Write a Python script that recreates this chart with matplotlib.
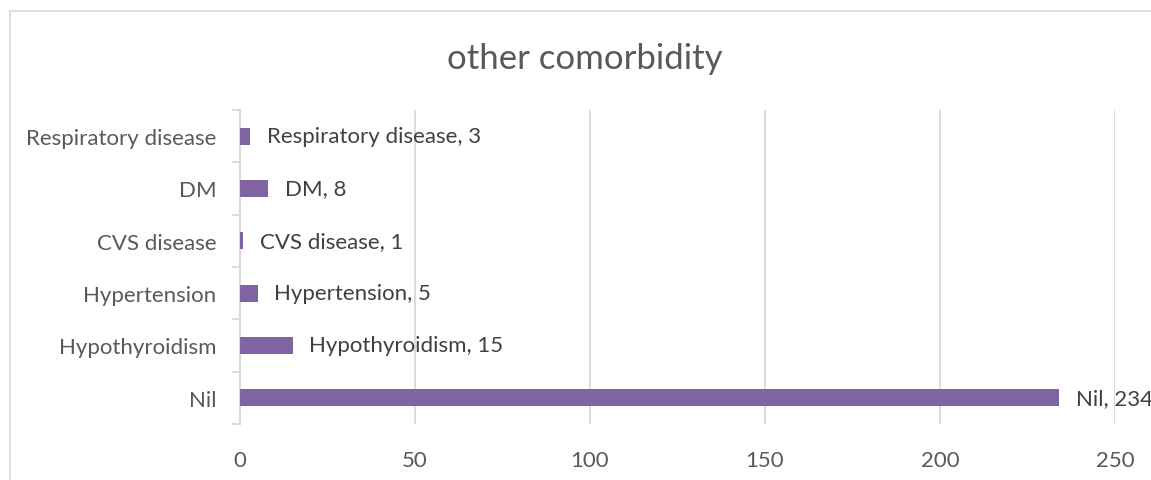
import matplotlib
matplotlib.use("Agg")
import matplotlib.pyplot as plt
from matplotlib.lines import Line2D

categories = ["Nil", "Hypothyroidism", "Hypertension", "CVS disease", "DM", "Respiratory disease"]
counts = [234, 15, 5, 1, 8, 3]
x_ticks = [0, 50, 100, 150, 200, 250]

plt.rcParams['font.family'] = ['Lato', 'DejaVu Sans']
text_color = "#595959"
grid_color = "#d9d9d9"
bar_color = "#8064A2"

W, H = 1151, 481
fig = plt.figure(figsize=(W / 100, H / 100), dpi=100)

# chart frame (top and left edges)
fig.add_artist(Line2D([10 / W, 1.0], [1 - 12 / H, 1 - 12 / H], color=grid_color, lw=1.2))
fig.add_artist(Line2D([10 / W, 10 / W], [0.0, 1 - 12 / H], color=grid_color, lw=1.2))

ax = fig.add_axes([240 / W, (H - 425) / H, (1115 - 240) / W, (425 - 111) / H])

ypos = list(range(len(categories)))
ax.barh(ypos, counts, height=0.33, color=bar_color, zorder=3)

for y, c, v in zip(ypos, categories, counts):
    ax.annotate(f"{c}, {v}", xy=(v, y), xytext=(12, 0), textcoords="offset points",
                va="center", ha="left", fontsize=16, color="#404040", zorder=4)

ax.set_xlim(0, 250)
ax.set_ylim(-0.5, len(categories) - 0.5)
ax.set_xticks(x_ticks)
ax.set_xticklabels([str(t) for t in x_ticks])
ax.set_yticks(ypos)
ax.set_yticklabels(categories)
ax.set_yticks([i - 0.5 for i in range(len(categories) + 1)], minor=True)

ax.tick_params(axis="y", which="major", length=0, pad=17, labelsize=16, labelcolor=text_color)
ax.tick_params(axis="y", which="minor", length=6, width=1.3, color=grid_color)
ax.tick_params(axis="x", which="major", length=0, pad=19, labelsize=16, labelcolor=text_color)

for s in ["top", "right", "bottom"]:
    ax.spines[s].set_visible(False)
ax.spines["left"].set_color(grid_color)
ax.spines["left"].set_linewidth(1.5)

ax.grid(axis="x", color=grid_color, lw=1.3, zorder=0)
ax.set_axisbelow(True)

fig.text(585 / W, 1 - 59 / H, "other comorbidity", ha="center", va="center",
         fontsize=25, color=text_color)

fig.savefig("out.png", dpi=100, facecolor="white")
